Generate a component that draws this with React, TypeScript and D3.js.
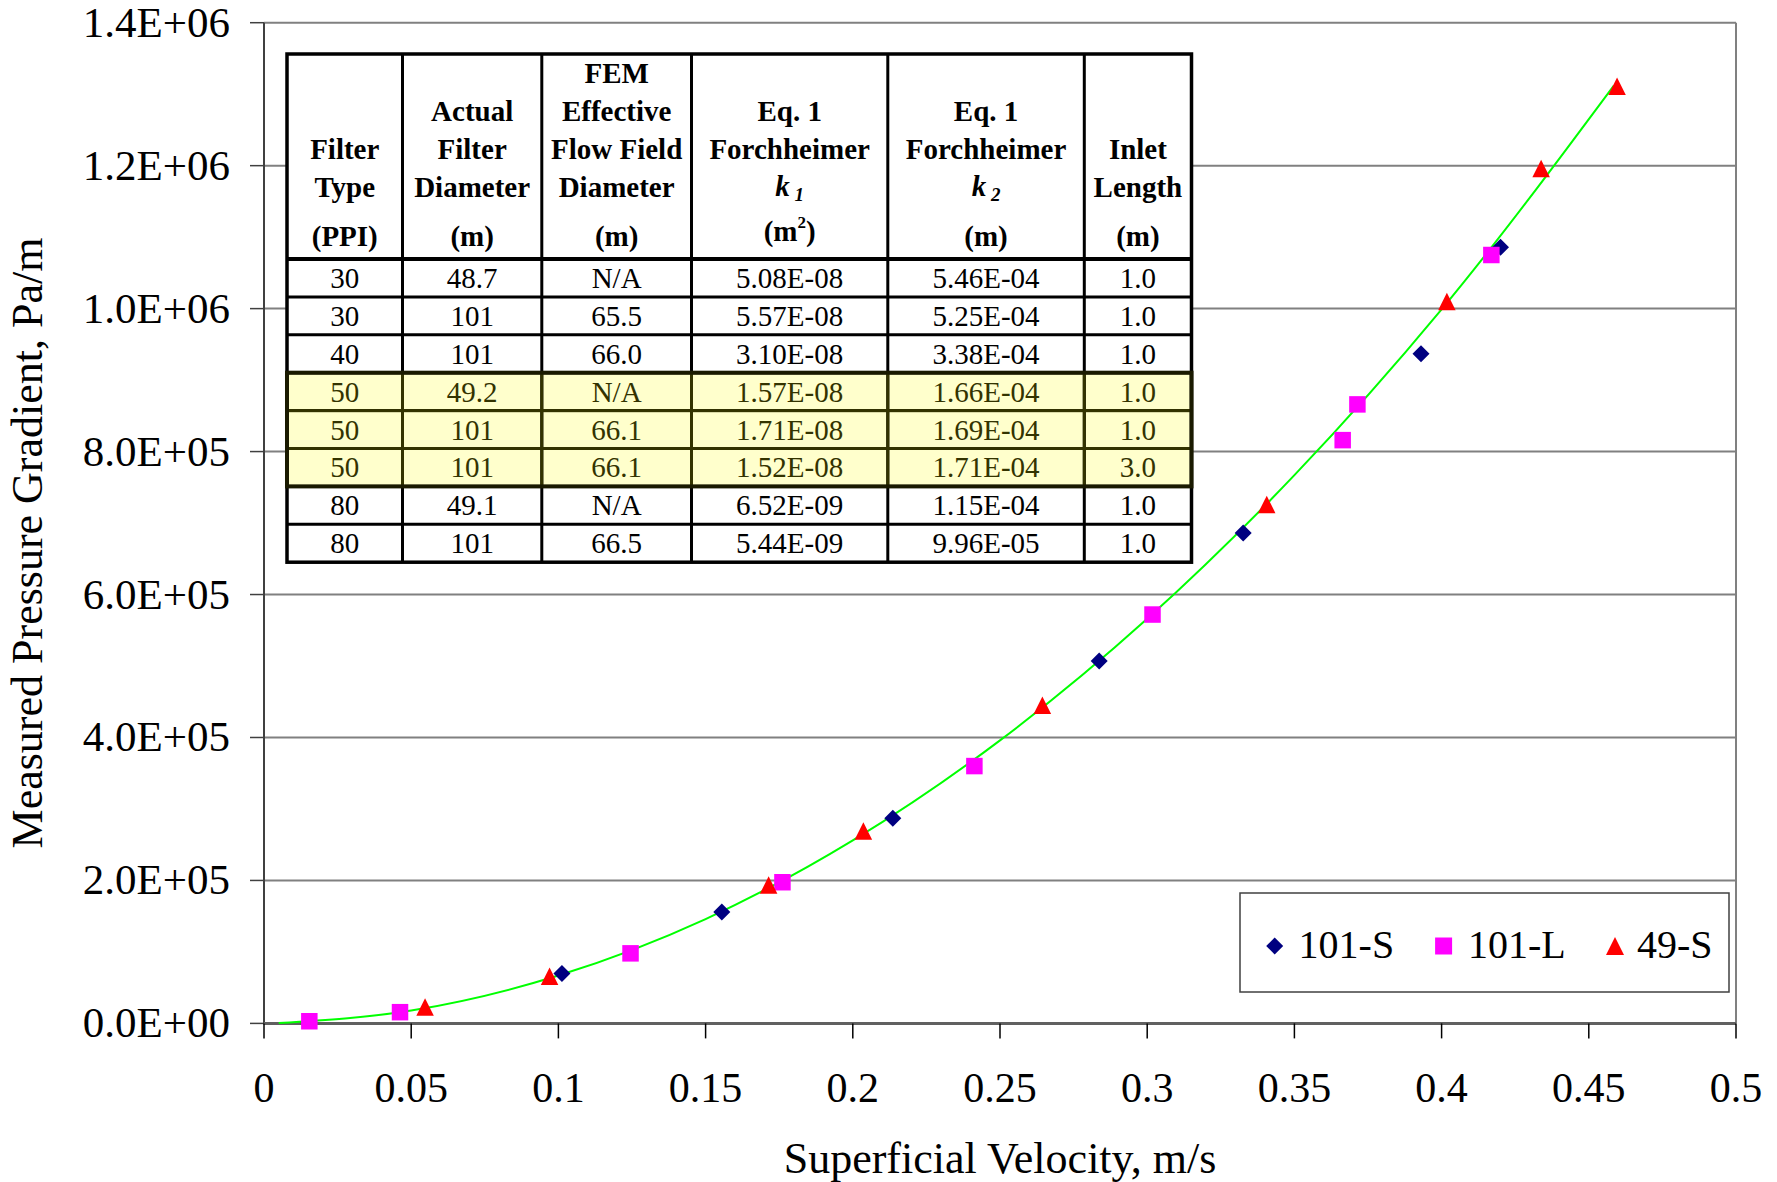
import React from "react";
import * as d3 from "d3";

// ---------- data ----------
const velocityTicks = [0, 0.05, 0.1, 0.15, 0.2, 0.25, 0.3, 0.35, 0.4, 0.45, 0.5];
const pressureTicks = [0, 2e5, 4e5, 6e5, 8e5, 10e5, 12e5, 14e5];

const s101S_v = [0.1012, 0.1555, 0.2136, 0.2837, 0.3326, 0.393, 0.42];
const s101S_p = [69.8e3, 156e3, 287e3, 507e3, 686e3, 937e3, 1086e3];

const s101L_v = [0.0154, 0.0462, 0.1245, 0.1761, 0.2413, 0.3018, 0.3664, 0.3714, 0.4169];
const s101L_p = [3e3, 15.7e3, 98e3, 197.5e3, 360e3, 572e3, 816e3, 866e3, 1075e3];

const s49S_v = [0.0547, 0.097, 0.1714, 0.2036, 0.2644, 0.3406, 0.4018, 0.4338, 0.4596];
const s49S_p = [23e3, 66e3, 193.5e3, 269e3, 445e3, 726e3, 1010e3, 1196e3, 1311e3];

// green fitted curve
const fit_v = [0.005, 0.05, 0.1, 0.15, 0.2, 0.25, 0.3, 0.35, 0.4, 0.4585];
const fit_p = [0.5e3, 18e3, 67e3, 146e3, 256e3, 396e3, 566e3, 767e3, 999e3, 1312e3];

const seriesNames = ["101-S", "101-L", "49-S"];

const colFilterType = ["30", "30", "40", "50", "50", "50", "80", "80"];
const colActualDiam = ["48.7", "101", "101", "49.2", "101", "101", "49.1", "101"];
const colFemDiam = ["N/A", "65.5", "66.0", "N/A", "66.1", "66.1", "N/A", "66.5"];
const colK1 = ["5.08E-08", "5.57E-08", "3.10E-08", "1.57E-08", "1.71E-08", "1.52E-08", "6.52E-09", "5.44E-09"];
const colK2 = ["5.46E-04", "5.25E-04", "3.38E-04", "1.66E-04", "1.69E-04", "1.71E-04", "1.15E-04", "9.96E-05"];
const colInlet = ["1.0", "1.0", "1.0", "1.0", "1.0", "3.0", "1.0", "1.0"];
const highlightedRows = [3, 4, 5];

// ---------- layout ----------
const W = 1777, H = 1182;
const PL = 264, PR = 1736, PT = 22.7, PB = 1023.4;
const FONT = "'Liberation Serif', 'Times New Roman', serif";

const x = d3.scaleLinear().domain([0, 0.5]).range([PL, PR]);
const y = d3.scaleLinear().domain([0, 1.4e6]).range([PB, PT]);

const fmtY = (v: number) => {
  const e = v === 0 ? 0 : Math.floor(Math.log10(v));
  const m = v === 0 ? 0 : v / Math.pow(10, e);
  return `${m.toFixed(1)}E+${String(e).padStart(2, "0")}`;
};

const diamond = (cx: number, cy: number, r: number) =>
  `M${cx},${cy - r}L${cx + r},${cy}L${cx},${cy + r}L${cx - r},${cy}Z`;
const square = (cx: number, cy: number, s: number) =>
  `M${cx - s / 2},${cy - s / 2}h${s}v${s}h${-s}Z`;
const triangle = (cx: number, cy: number, s: number) =>
  `M${cx},${cy - s / 2}L${cx + s / 2},${cy + s / 2}L${cx - s / 2},${cy + s / 2}Z`;

// table geometry
const colX = [287, 402.5, 541.8, 691.5, 887.8, 1084.3, 1191.5];
const tTop = 54, tHeadBot = 259, rowH = 37.9;

export default function App() {
  const line = d3
    .line<number>()
    .x((_, i) => x(fit_v[i]))
    .y((_, i) => y(fit_p[i]))
    .curve(d3.curveMonotoneX);

  const bodyCols = [colFilterType, colActualDiam, colFemDiam, colK1, colK2, colInlet];
  const nRows = colFilterType.length;
  const tBottom = tHeadBot + nRows * rowH;
  const hlTop = tHeadBot + highlightedRows[0] * rowH;
  const hlBot = tHeadBot + (highlightedRows[highlightedRows.length - 1] + 1) * rowH;
  const cx = (i: number) => (colX[i] + colX[i + 1]) / 2;

  const hb = { l1: 83, l2: 121, l3: 158.5, l4: 197, l5: 246 };
  const headerLines: { col: number; text: React.ReactNode; yb: number }[] = [
    { col: 0, text: "Filter", yb: hb.l3 },
    { col: 0, text: "Type", yb: hb.l4 },
    { col: 0, text: "(PPI)", yb: hb.l5 },
    { col: 1, text: "Actual", yb: hb.l2 },
    { col: 1, text: "Filter", yb: hb.l3 },
    { col: 1, text: "Diameter", yb: hb.l4 },
    { col: 1, text: "(m)", yb: hb.l5 },
    { col: 2, text: "FEM", yb: hb.l1 },
    { col: 2, text: "Effective", yb: hb.l2 },
    { col: 2, text: "Flow Field", yb: hb.l3 },
    { col: 2, text: "Diameter", yb: hb.l4 },
    { col: 2, text: "(m)", yb: hb.l5 },
    { col: 3, text: "Eq. 1", yb: hb.l2 },
    { col: 3, text: "Forchheimer", yb: hb.l3 },
    {
      col: 3,
      text: (
        <>
          <tspan fontStyle="italic">k</tspan>
          <tspan fontStyle="italic" fontSize={19} dy={5}>{" 1"}</tspan>
        </>
      ),
      yb: hb.l4 - 1,
    },
    {
      col: 3,
      text: (
        <>
          <tspan>(m</tspan>
          <tspan fontSize={17} dy={-13}>2</tspan>
          <tspan dy={13}>)</tspan>
        </>
      ),
      yb: 241,
    },
    { col: 4, text: "Eq. 1", yb: hb.l2 },
    { col: 4, text: "Forchheimer", yb: hb.l3 },
    {
      col: 4,
      text: (
        <>
          <tspan fontStyle="italic">k</tspan>
          <tspan fontStyle="italic" fontSize={19} dy={5}>{" 2"}</tspan>
        </>
      ),
      yb: hb.l4 - 1,
    },
    { col: 4, text: "(m)", yb: hb.l5 },
    { col: 5, text: "Inlet", yb: hb.l3 },
    { col: 5, text: "Length", yb: hb.l4 },
    { col: 5, text: "(m)", yb: hb.l5 },
  ];

  return (
    <svg
      width={W}
      height={H}
      style={{ position: "absolute", left: 0, top: 0, background: "#fff" }}
      fontFamily={FONT}
    >
      <rect x={0} y={0} width={W} height={H} fill="#fff" />
      {/* gridlines */}
      {pressureTicks.map((t) => (
        <line key={"g" + t} x1={PL} x2={PR} y1={y(t)} y2={y(t)} stroke="#808080" strokeWidth={2} />
      ))}
      {/* plot border right */}
      <line x1={PR} x2={PR} y1={PT} y2={PB} stroke="#808080" strokeWidth={2} />
      {/* axes */}
      <line x1={PL} x2={PL} y1={PT} y2={PB + 1} stroke="#404040" strokeWidth={2} />
      <line x1={PL} x2={PR} y1={PB} y2={PB} stroke="#606060" strokeWidth={3} />
      {/* y ticks */}
      {pressureTicks.map((t) => (
        <g key={"yt" + t}>
          <line x1={PL - 14} x2={PL} y1={y(t)} y2={y(t)} stroke="#404040" strokeWidth={1.5} />
          <text x={230} y={y(t) + 14} textAnchor="end" fontSize={43} fill="#000">
            {fmtY(t)}
          </text>
        </g>
      ))}
      {/* x ticks */}
      {velocityTicks.map((t) => (
        <g key={"xt" + t}>
          <line x1={x(t)} x2={x(t)} y1={PB} y2={PB + 15} stroke="#000" strokeWidth={1.5} />
          <text x={x(t)} y={1101.5} textAnchor="middle" fontSize={42} fill="#000">
            {String(t)}
          </text>
        </g>
      ))}
      {/* axis titles */}
      <text x={(PL + PR) / 2} y={1173} textAnchor="middle" fontSize={44} fill="#000">
        Superficial Velocity, m/s
      </text>
      <text
        transform={`translate(42,543) rotate(-90)`}
        textAnchor="middle"
        fontSize={44}
        fill="#000"
      >
        Measured Pressure Gradient, Pa/m
      </text>

      {/* fitted curve */}
      <path d={line(fit_v) || ""} fill="none" stroke="#00FF00" strokeWidth={2} />

      {/* series */}
      {s101S_v.map((v, i) => (
        <path key={"d" + i} d={diamond(x(v), y(s101S_p[i]), 8.5)} fill="#000080" />
      ))}
      {s101L_v.map((v, i) => (
        <path key={"s" + i} d={square(x(v), y(s101L_p[i]), 16.5)} fill="#FF00FF" />
      ))}
      {s49S_v.map((v, i) => (
        <path key={"t" + i} d={triangle(x(v), y(s49S_p[i]), 17.5)} fill="#FF0000" />
      ))}

      {/* table */}
      <g>
        <rect x={colX[0]} y={tTop} width={colX[6] - colX[0]} height={tBottom - tTop} fill="#fff" />
        <rect x={colX[0]} y={hlTop} width={colX[6] - colX[0]} height={hlBot - hlTop} fill="#FFFFCC" />
        {headerLines.map((h, i) => (
          <text
            key={"h" + i}
            x={cx(h.col)}
            y={h.yb}
            textAnchor="middle"
            fontSize={29}
            fontWeight="bold"
            fill="#000"
          >
            {h.text}
          </text>
        ))}
        {bodyCols.map((col, ci) =>
          col.map((val, ri) => (
            <text
              key={`c${ci}-${ri}`}
              x={cx(ci)}
              y={tHeadBot + ri * rowH + rowH / 2 + 10}
              textAnchor="middle"
              fontSize={29}
              fill={highlightedRows.includes(ri) ? "#333300" : "#000"}
            >
              {val}
            </text>
          ))
        )}
        {/* row lines */}
        {d3.range(1, nRows).map((r) => (
          <line
            key={"rl" + r}
            x1={colX[0]}
            x2={colX[6]}
            y1={tHeadBot + r * rowH}
            y2={tHeadBot + r * rowH}
            stroke="#000"
            strokeWidth={3}
          />
        ))}
        {/* column lines */}
        {colX.slice(1, 6).map((cxv, i) => (
          <line key={"cl" + i} x1={cxv} x2={cxv} y1={tTop} y2={tBottom} stroke="#000" strokeWidth={3} />
        ))}
        <line x1={colX[0]} x2={colX[6]} y1={tHeadBot} y2={tHeadBot} stroke="#000" strokeWidth={4} />
        <rect
          x={colX[0]}
          y={tTop}
          width={colX[6] - colX[0]}
          height={tBottom - tTop}
          fill="none"
          stroke="#000"
          strokeWidth={3.5}
        />
        {/* highlighted block borders */}
        {highlightedRows.map((r) => (
          <rect
            key={"hl" + r}
            x={colX[0]}
            y={tHeadBot + r * rowH}
            width={colX[6] - colX[0]}
            height={rowH}
            fill="none"
            stroke="#333300"
            strokeWidth={3}
          />
        ))}
        {colX.slice(1, 6).map((cxv, i) => (
          <line key={"hc" + i} x1={cxv} x2={cxv} y1={hlTop} y2={hlBot} stroke="#333300" strokeWidth={3} />
        ))}
        <rect
          x={colX[0]}
          y={hlTop}
          width={colX[6] - colX[0]}
          height={hlBot - hlTop}
          fill="none"
          stroke="#1a1a00"
          strokeWidth={4}
        />
      </g>

      {/* legend */}
      <g>
        <rect x={1240} y={893} width={489} height={99} fill="#fff" stroke="#404040" strokeWidth={1.5} />
        <path d={diamond(1274.7, 946, 8.5)} fill="#000080" />
        <text x={1298.6} y={958} fontSize={40} fill="#000">{seriesNames[0]}</text>
        <path d={square(1443.6, 946, 17)} fill="#FF00FF" />
        <text x={1468} y={958} fontSize={40} fill="#000">{seriesNames[1]}</text>
        <path d={triangle(1615, 946, 18)} fill="#FF0000" />
        <text x={1637} y={958} fontSize={40} fill="#000">{seriesNames[2]}</text>
      </g>
    </svg>
  );
}
